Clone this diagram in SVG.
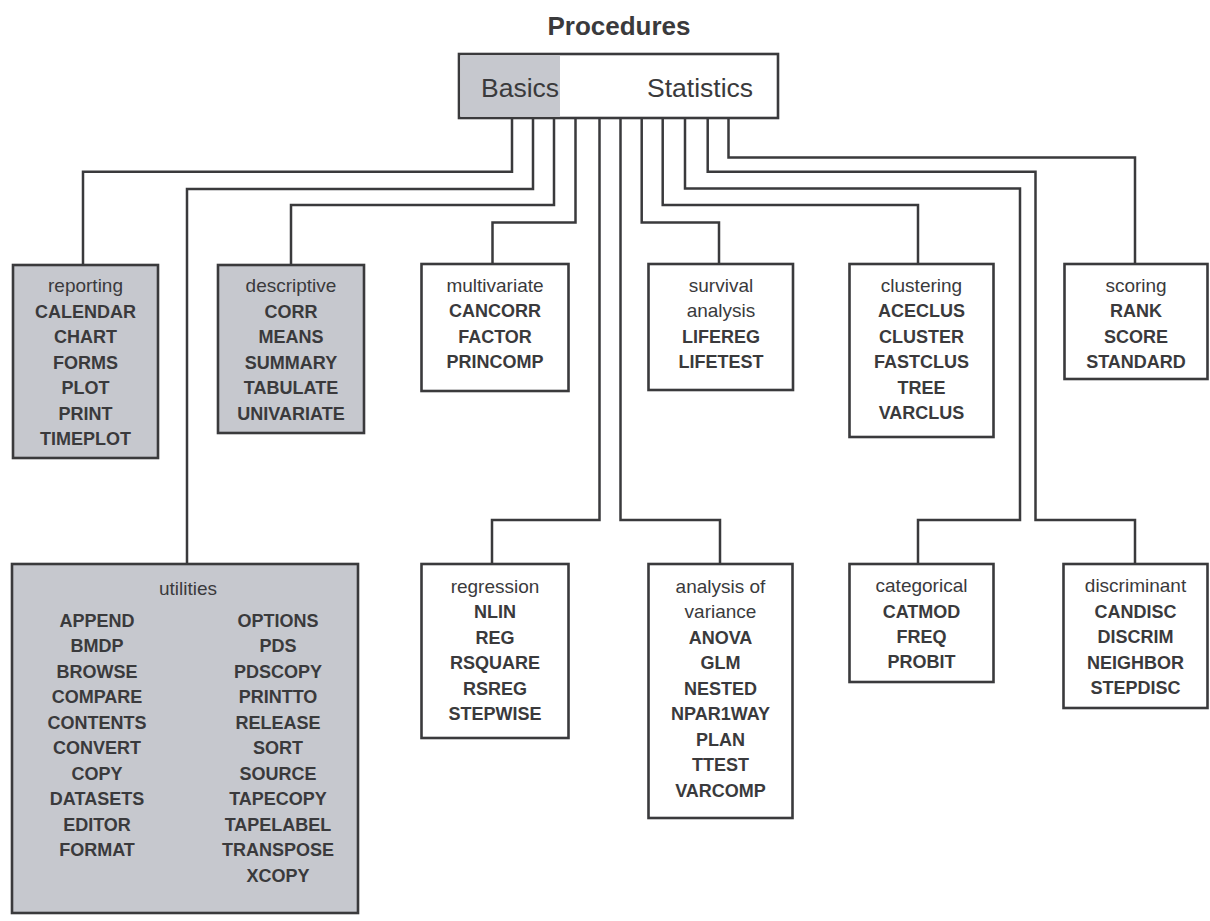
<svg xmlns="http://www.w3.org/2000/svg" width="1210" height="921" viewBox="0 0 1210 921">
<style>
.box{stroke:#3a3a3c;stroke-width:2.6;}
.w{fill:#ffffff;}
.g{fill:#c6c8ce;}
.conn{fill:none;stroke:#3a3a3c;stroke-width:2.5;}
text{font-family:"Liberation Sans",Arial,sans-serif;fill:#3a3a3c;}
.cat{font-size:19px;text-anchor:middle;}
.item{font-size:18px;font-weight:bold;text-anchor:middle;}
.title{font-size:26px;font-weight:bold;text-anchor:middle;}
.top{font-size:26.5px;}
</style>
<rect width="1210" height="921" fill="#ffffff"/>
<text class="title" x="619" y="35">Procedures</text>
<g id="connectors">
<path class="conn" d="M512,118 V171.7 H83 V265"/>
<path class="conn" d="M533,118 V189 H187 V564"/>
<path class="conn" d="M554,118 V205 H291 V265"/>
<path class="conn" d="M575.5,118 V222.5 H492.5 V264"/>
<path class="conn" d="M599.5,118 V520 H492 V564"/>
<path class="conn" d="M620.5,118 V520 H720 V564"/>
<path class="conn" d="M641.7,118 V222.5 H719 V264"/>
<path class="conn" d="M662.7,118 V205 H918 V264"/>
<path class="conn" d="M685,118 V188.5 H1020 V520 H918 V564"/>
<path class="conn" d="M707.7,118 V171.7 H1035.5 V520 H1135 V564"/>
<path class="conn" d="M728.5,118 V157.5 H1135 V264"/>
</g>
<g id="procedures">
<rect class="box w" x="459" y="54" width="319" height="64"/>
<rect class="g" x="460.3" y="55.3" width="99.7" height="61.4"/>
<text class="top" x="481" y="97">Basics</text>
<text class="top" x="647" y="97">Statistics</text>
</g>
<g id="reporting">
<rect class="box g" x="13" y="265" width="145" height="193"/>
<text class="cat" x="85.5" y="291.5">reporting</text>
<text class="item" x="85.5" y="317.5">CALENDAR</text>
<text class="item" x="85.5" y="343">CHART</text>
<text class="item" x="85.5" y="368.5">FORMS</text>
<text class="item" x="85.5" y="394">PLOT</text>
<text class="item" x="85.5" y="419.5">PRINT</text>
<text class="item" x="85.5" y="445">TIMEPLOT</text>
</g>
<g id="descriptive">
<rect class="box g" x="218" y="265" width="146" height="168"/>
<text class="cat" x="291" y="291.5">descriptive</text>
<text class="item" x="291" y="317.5">CORR</text>
<text class="item" x="291" y="343">MEANS</text>
<text class="item" x="291" y="368.5">SUMMARY</text>
<text class="item" x="291" y="394">TABULATE</text>
<text class="item" x="291" y="419.5">UNIVARIATE</text>
</g>
<g id="multivariate">
<rect class="box w" x="421.5" y="264" width="147" height="127"/>
<text class="cat" x="495" y="291.5">multivariate</text>
<text class="item" x="495" y="317">CANCORR</text>
<text class="item" x="495" y="342.5">FACTOR</text>
<text class="item" x="495" y="368">PRINCOMP</text>
</g>
<g id="survival">
<rect class="box w" x="648.5" y="264" width="144.5" height="126"/>
<text class="cat" x="721" y="291.5">survival</text>
<text class="cat" x="721" y="317">analysis</text>
<text class="item" x="721" y="342.5">LIFEREG</text>
<text class="item" x="721" y="368">LIFETEST</text>
</g>
<g id="clustering">
<rect class="box w" x="849.5" y="264" width="144" height="173"/>
<text class="cat" x="921.5" y="291.5">clustering</text>
<text class="item" x="921.5" y="317">ACECLUS</text>
<text class="item" x="921.5" y="342.5">CLUSTER</text>
<text class="item" x="921.5" y="368">FASTCLUS</text>
<text class="item" x="921.5" y="393.5">TREE</text>
<text class="item" x="921.5" y="419">VARCLUS</text>
</g>
<g id="scoring">
<rect class="box w" x="1064.5" y="264" width="143" height="115"/>
<text class="cat" x="1136" y="291.5">scoring</text>
<text class="item" x="1136" y="317">RANK</text>
<text class="item" x="1136" y="342.5">SCORE</text>
<text class="item" x="1136" y="368">STANDARD</text>
</g>
<g id="utilities">
<rect class="box g" x="12" y="564" width="346" height="349"/>
<text class="cat" x="188" y="595">utilities</text>
<text class="item" x="97" y="626.7">APPEND</text>
<text class="item" x="97" y="652.2">BMDP</text>
<text class="item" x="97" y="677.7">BROWSE</text>
<text class="item" x="97" y="703.2">COMPARE</text>
<text class="item" x="97" y="728.7">CONTENTS</text>
<text class="item" x="97" y="754.2">CONVERT</text>
<text class="item" x="97" y="779.7">COPY</text>
<text class="item" x="97" y="805.2">DATASETS</text>
<text class="item" x="97" y="830.7">EDITOR</text>
<text class="item" x="97" y="856.2">FORMAT</text>
<text class="item" x="278" y="626.7">OPTIONS</text>
<text class="item" x="278" y="652.2">PDS</text>
<text class="item" x="278" y="677.7">PDSCOPY</text>
<text class="item" x="278" y="703.2">PRINTTO</text>
<text class="item" x="278" y="728.7">RELEASE</text>
<text class="item" x="278" y="754.2">SORT</text>
<text class="item" x="278" y="779.7">SOURCE</text>
<text class="item" x="278" y="805.2">TAPECOPY</text>
<text class="item" x="278" y="830.7">TAPELABEL</text>
<text class="item" x="278" y="856.2">TRANSPOSE</text>
<text class="item" x="278" y="881.7">XCOPY</text>
</g>
<g id="regression">
<rect class="box w" x="421.5" y="564" width="147" height="174"/>
<text class="cat" x="495" y="592.5">regression</text>
<text class="item" x="495" y="618">NLIN</text>
<text class="item" x="495" y="643.5">REG</text>
<text class="item" x="495" y="669">RSQUARE</text>
<text class="item" x="495" y="694.5">RSREG</text>
<text class="item" x="495" y="720">STEPWISE</text>
</g>
<g id="anova">
<rect class="box w" x="648.5" y="564" width="144" height="254"/>
<text class="cat" x="720.5" y="592.5">analysis of</text>
<text class="cat" x="720.5" y="618">variance</text>
<text class="item" x="720.5" y="643.5">ANOVA</text>
<text class="item" x="720.5" y="669">GLM</text>
<text class="item" x="720.5" y="694.5">NESTED</text>
<text class="item" x="720.5" y="720">NPAR1WAY</text>
<text class="item" x="720.5" y="745.5">PLAN</text>
<text class="item" x="720.5" y="771">TTEST</text>
<text class="item" x="720.5" y="796.5">VARCOMP</text>
</g>
<g id="categorical">
<rect class="box w" x="849.5" y="564" width="144" height="118"/>
<text class="cat" x="921.5" y="592">categorical</text>
<text class="item" x="921.5" y="617.5">CATMOD</text>
<text class="item" x="921.5" y="643">FREQ</text>
<text class="item" x="921.5" y="668">PROBIT</text>
</g>
<g id="discriminant">
<rect class="box w" x="1063.5" y="564" width="144" height="144"/>
<text class="cat" x="1135.5" y="592">discriminant</text>
<text class="item" x="1135.5" y="617.5">CANDISC</text>
<text class="item" x="1135.5" y="643">DISCRIM</text>
<text class="item" x="1135.5" y="668.5">NEIGHBOR</text>
<text class="item" x="1135.5" y="694">STEPDISC</text>
</g>
</svg>
